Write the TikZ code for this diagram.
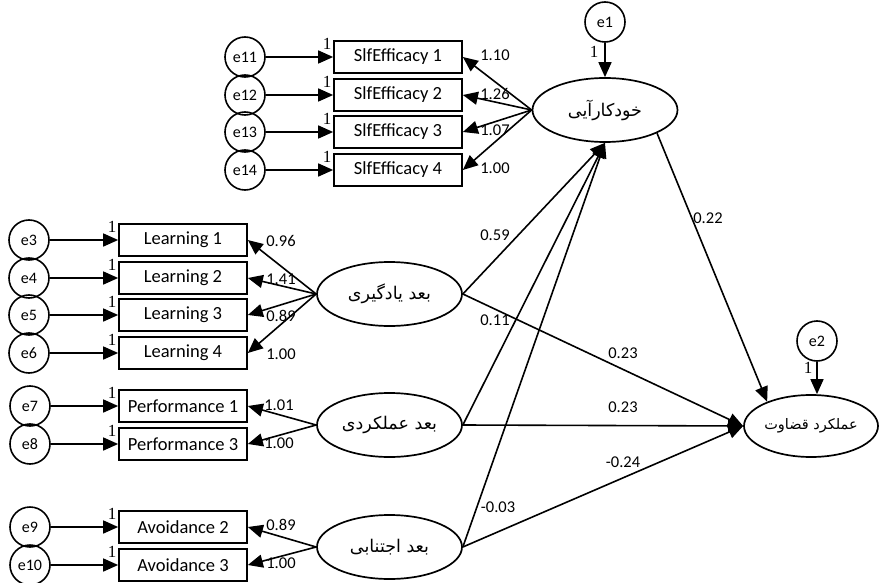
\documentclass[tikz,border=0pt]{standalone}
\usepackage{fontspec}
\setmainfont{Carlito}
\newfontfamily\arabicfont[Script=Arabic]{DejaVu Sans}
\newfontfamily\serifone{Liberation Serif}
\TeXXeTstate=1
\usetikzlibrary{shapes.geometric,arrows.meta}
\begin{document}
\begin{tikzpicture}[x=1pt,y=-1pt,
  lat/.style={ellipse, draw, line width=1.7pt, minimum width=145pt, minimum height=64pt, inner xsep=-22pt, inner ysep=-4pt, font=\arabicfont\fontsize{17.5}{20}\selectfont},
  obs/.style={rectangle, draw, line width=1.7pt, minimum width=128pt, minimum height=32pt, inner sep=0pt, font=\fontsize{18.5}{21}\selectfont},
  err/.style={circle, draw, line width=1.6pt, minimum size=40pt, inner sep=0pt, font=\fontsize{16}{18}\selectfont},
  arr/.style={-{Triangle[length=15pt,width=13pt]}, line width=1.6pt},
  num/.style={font=\fontsize{16.5}{18}\selectfont, inner sep=0pt},
  one/.style={font=\serifone\fontsize{17}{18}\selectfont, inner sep=0pt}
]
\useasboundingbox (0,0) rectangle (881,583);

% latent variables
\node[lat] (SE) at (605,110) {\beginR خودکارآیی\endR};
\node[lat] (L) at (389.5,294) {\beginR بعد یادگیری\endR};
\node[lat] (P) at (389.5,425) {\beginR بعد عملکردی\endR};
\node[lat] (A) at (389.5,547) {\beginR بعد اجتنابی\endR};
\node[lat, minimum width=134pt, minimum height=62pt, font=\arabicfont\fontsize{14.5}{17}\selectfont] (OUT) at (811,426) {\beginR عملکرد قضاوت\endR};

% error terms of latents
\node[err] (e1) at (605,22) {e1};
\node[err] (e2) at (817,341) {e2};
\draw[arr] (e1) -- (SE.north);
\draw[arr] (e2.south) -- (e2.south |- OUT.north);
\node[one] (o1) at (594,52) {1};
\node[one] (o2) at (808,368) {1};

% self-efficacy indicators
\foreach \i/\y/\e/\v in {1/57/e11/1.10, 2/95/e12/1.26, 3/132/e13/1.07, 4/170/e14/1.00}{
  \node[obs] (s\i) at (398,\y) {SlfEfficacy \i};
  \node[err] (\e) at (245,\y) {\e};
  \draw[arr] (\e) -- (s\i);
  \draw[arr] (SE.west) -- (s\i.east);
  \node[num] (ls\i) at (495,\y-1.5) {\v};
  \node[one] (os\i) at ([xshift=-6pt,yshift=-4pt]s\i.north west) {1};
}

% learning indicators
\foreach \i/\y/\e/\v in {1/240/e3/0.96, 2/278/e4/1.41, 3/315/e5/0.89, 4/353/e6/1.00}{
  \node[obs] (l\i) at (183,\y) {Learning \i};
  \node[err] (\e) at (29,\y) {\e};
  \draw[arr] (\e) -- (l\i);
  \draw[arr] (L.west) -- (l\i.east);
  \node[num] (ll\i) at (281,\y+1) {\v};
  \node[one] (ol\i) at ([xshift=-6pt,yshift=-4pt]l\i.north west) {1};
}

% performance indicators
\foreach \i/\y/\e/\v/\t in {1/406/e7/1.01/Performance 1, 2/444/e8/1.00/Performance 3}{
  \node[obs] (p\i) at (183,\y) {\t};
  \node[err] (\e) at (30,\y) {\e};
  \draw[arr] (\e) -- (p\i);
  \draw[arr] (P.west) -- (p\i.east);
  \node[num] (lp\i) at (279,\y-1) {\v};
  \node[one] (op\i) at ([xshift=-6pt,yshift=-4pt]p\i.north west) {1};
}

% avoidance indicators
\foreach \i/\y/\e/\v/\t in {1/527/e9/0.89/Avoidance 2, 2/565/e10/1.00/Avoidance 3}{
  \node[obs] (a\i) at (183,\y) {\t};
  \node[err] (\e) at (30,\y) {\e};
  \draw[arr] (\e) -- (a\i);
  \draw[arr] (A.west) -- (a\i.east);
  \node[num] (la\i) at (281,\y-2) {\v};
  \node[one] (oa\i) at ([xshift=-6pt,yshift=-4pt]a\i.north west) {1};
}

% structural paths
\draw[arr] (L.east) -- (SE.south);
\draw[arr] (P.east) -- (SE.south);
\draw[arr] (A.east) -- (SE.south);
\draw[arr] (L.east) -- (OUT.west);
\draw[arr] (P.east) -- (OUT.west);
\draw[arr] (A.east) -- (OUT.west);
\draw[arr] (SE.-24) -- (OUT.151);

\node[num] (n059) at (495,235) {0.59};
\node[num] (n011) at (495,320) {0.11};
\node[num] (n003) at (498,507) {-0.03};
\node[num] (n022) at (708,218) {0.22};
\node[num] (n023a) at (623,353) {0.23};
\node[num] (n023b) at (623,407) {0.23};
\node[num] (n024) at (623,462) {-0.24};
\end{tikzpicture}
\end{document}
